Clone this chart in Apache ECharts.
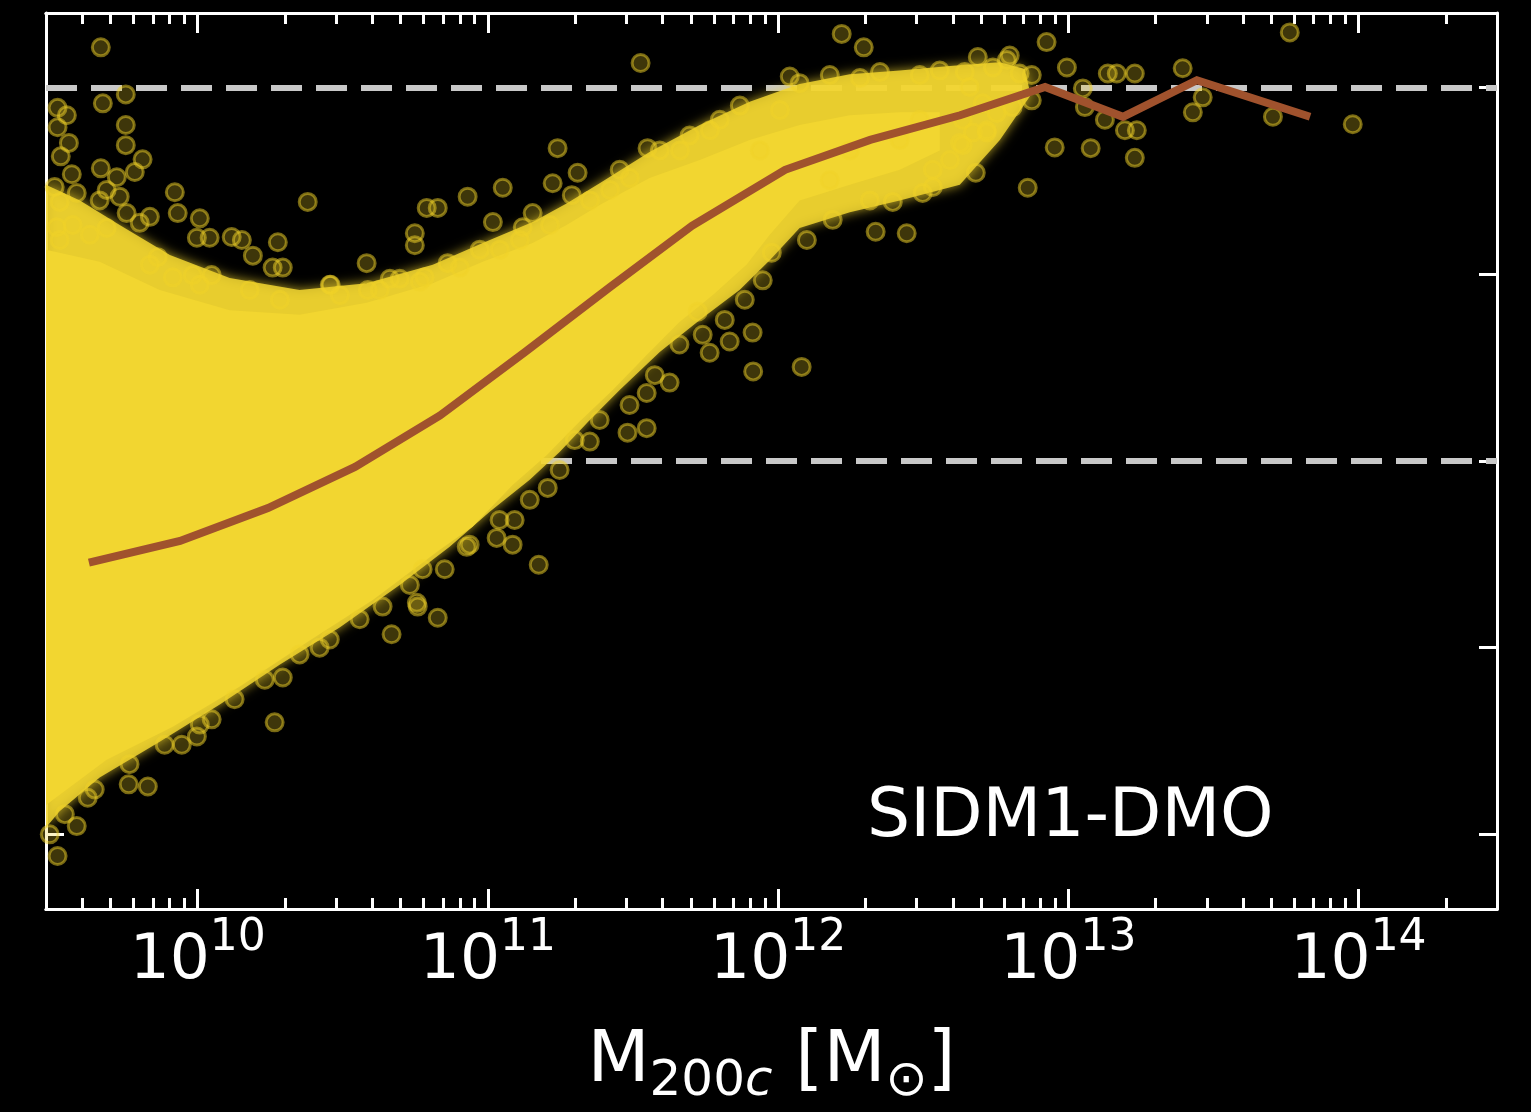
<!DOCTYPE html>
<html>
<head>
<meta charset="utf-8">
<script src="https://cdn.jsdelivr.net/npm/echarts@6/dist/echarts.min.js"></script>
<style>
html,body{margin:0;padding:0;background:#000;}
#chart{width:1531px;height:1112px;}
</style>
</head>
<body>
<div id="chart"></div>
<script>
// x values are log10(M200c / Msun); y is the plotted ratio
const xTickLabels = [10, 11, 12, 13, 14];
const yTicks = [0, 0.25, 0.5, 0.75, 1.0];
const refLines = [1.0, 0.5];

// median curve
const medianX = [9.625, 9.939, 10.242, 10.542, 10.835, 11.128, 11.421, 11.703, 12.024, 12.317, 12.627, 12.920, 13.188, 13.443, 13.833];
const medianY = [0.364, 0.393, 0.437, 0.492, 0.561, 0.646, 0.733, 0.815, 0.890, 0.930, 0.963, 1.001, 0.961, 1.010, 0.961];

// dense (opaque) core of the point cloud: outline, upper edge then lower edge
const coreOutline = [
  [9.477,0.783],[9.662,0.767],[9.869,0.729],[10.110,0.702],[10.351,0.696],[10.582,0.712],[10.810,0.738],
  [10.982,0.767],[11.154,0.792],[11.271,0.816],[11.385,0.843],[11.557,0.879],[11.730,0.903],[11.902,0.930],
  [12.074,0.950],[12.247,0.963],[12.419,0.967],[12.557,0.967],
  [12.557,0.916],[12.419,0.890],[12.247,0.870],[12.074,0.849],[11.971,0.803],[11.891,0.763],[11.774,0.722],
  [11.660,0.686],[11.547,0.642],[11.430,0.595],[11.316,0.553],[11.203,0.508],[11.085,0.468],[10.947,0.412],
  [10.834,0.381],[10.603,0.314],[10.375,0.257],[10.145,0.198],[9.914,0.144],[9.686,0.100],[9.490,0.043],[9.477,0.039]
];
// looser fringe of overlapping points around the core
const haloOutline = [
  [9.477,0.870],[9.594,0.849],[9.731,0.816],[9.904,0.776],[10.110,0.745],[10.351,0.729],[10.582,0.738],
  [10.810,0.763],[10.982,0.792],[11.154,0.820],[11.271,0.845],[11.385,0.872],[11.557,0.914],[11.730,0.950],
  [11.902,0.981],[12.074,1.005],[12.247,1.018],[12.419,1.023],[12.592,1.029],[12.764,1.034],[12.850,1.025],
  [12.870,0.990],[12.764,0.930],[12.626,0.870],[12.419,0.849],[12.247,0.833],[12.074,0.812],[11.971,0.769],
  [11.867,0.729],[11.730,0.689],[11.592,0.646],[11.454,0.595],[11.351,0.555],[11.247,0.512],[11.144,0.475],
  [11.006,0.432],[10.868,0.385],[10.696,0.334],[10.489,0.277],[10.282,0.227],[10.076,0.174],[9.869,0.124],
  [9.662,0.076],[9.524,0.031],[9.477,0.009]
];

// individually visible haloes
const pointsX = [
  9.666,9.673,9.752,9.752,9.752,9.517,9.549,9.517,9.556,9.528,9.666,9.566,9.721,9.810,9.783,9.921,10.379,9.931,10.007,9.997,
  10.041,10.117,10.152,10.276,10.190,10.258,10.293,10.458,9.835,9.862,9.507,9.583,9.524,9.662,9.731,9.686,9.514,9.569,9.686,9.755,
  9.800,9.914,9.983,10.048,
  11.240,11.309,11.454,11.223,11.051,10.930,10.789,10.827,11.289,11.017,11.154,11.120,10.748,10.748,10.582,10.455,10.662,10.696,10.586,10.782,
  10.861,10.972,
  11.526,12.219,12.295,12.040,12.688,12.681,12.336,12.443,11.550,12.188,12.099,11.978,11.947,12.533,12.498,12.395,12.533,12.719,12.626,11.912,
  11.833,11.740,12.081,11.914,11.764,11.723,11.481,11.351,11.547,11.626,11.547,11.206,11.092,11.030,11.085,11.175,10.755,
  10.265,10.668,10.758,10.827,10.637,10.420,10.293,9.945,9.997,10.048,9.828,9.762,9.621,9.583,9.517,10.775,10.927,
  12.925,13.763,12.798,12.740,12.995,13.136,13.167,13.229,13.394,13.463,13.429,13.705,13.980,12.953,13.077,13.229,12.860,13.195,13.236,13.126,
  13.057,12.636,12.671,12.719,12.636,12.808,12.874,13.050,12.874,12.832,12.643,12.660,12.705,12.753,
  11.868,12.074,12.178,12.282,12.351,12.488,12.557,12.788,11.799,11.695,11.592,11.937,12.247,12.419,12.178,12.316,12.592,12.488,12.006,
  11.885,11.816,11.660,11.575,11.488,11.385,11.299,11.247,11.144,11.040,10.937,10.851,10.731,10.558,10.455,10.351,10.231,10.127,10.007,9.886,
  9.765,9.645,9.542,9.490,
  9.524,9.628,9.835,10.007,10.179,10.283,10.490,10.627,10.765,10.903,11.041,11.110,11.214,11.352,11.421,11.489,11.662,11.765
];
const pointsY = [
  1.054,0.979,0.991,0.950,0.923,0.973,0.963,0.947,0.926,0.908,0.892,0.884,0.880,0.904,0.887,0.860,0.847,0.832,0.825,0.799,
  0.799,0.800,0.796,0.793,0.775,0.759,0.759,0.736,0.827,0.773,0.867,0.859,0.847,0.849,0.854,0.863,0.813,0.816,0.812,0.832,
  0.819,0.746,0.749,0.749,
  0.919,0.886,0.890,0.872,0.866,0.854,0.839,0.839,0.856,0.820,0.832,0.813,0.805,0.789,0.765,0.736,0.744,0.744,0.729,0.746,
  0.765,0.783,
  1.033,1.072,1.054,1.015,1.041,0.886,0.807,0.805,0.919,0.823,0.796,0.779,0.742,0.867,0.859,0.847,0.890,0.943,0.926,0.672,
  0.660,0.669,0.626,0.620,0.645,0.700,0.538,0.526,0.544,0.605,0.591,0.464,0.421,0.397,0.388,0.361,0.310,
  0.150,0.268,0.305,0.290,0.305,0.250,0.210,0.120,0.131,0.154,0.064,0.067,0.049,0.011,-0.029,0.355,0.385,
  1.061,1.074,1.043,1.027,1.027,1.019,1.019,1.019,1.026,0.987,0.967,0.961,0.951,0.920,0.919,0.906,0.866,0.943,0.943,0.957,
  0.974,0.957,0.940,0.940,0.923,0.974,0.983,0.999,1.017,1.019,1.021,1.001,0.979,0.966,
  0.976,1.006,1.017,1.013,1.021,1.017,1.023,1.037,0.957,0.936,0.916,0.916,0.916,0.930,0.876,0.849,0.903,0.957,0.970,
  0.716,0.689,0.656,0.615,0.575,0.555,0.528,0.488,0.448,0.421,0.388,0.355,0.334,0.288,0.261,0.241,0.207,0.181,0.147,0.120,
  0.094,0.060,0.027,0.000,
  0.796,0.803,0.763,0.736,0.729,0.716,0.722,0.729,0.740,0.759,0.783,0.796,0.816,0.849,0.863,0.879,0.916,0.943
];

const X_MIN = Math.log10(3e9), X_MAX = Math.log10(3e14);
const FONT = 'DejaVu Sans';
const YELLOW = '#f2d630';

const majorX = xTickLabels.slice();
const minorX = [];
for (let e = 9; e <= 14; e++) for (let k = 2; k <= 9; k++) {
  const v = e + Math.log10(k);
  if (v > X_MIN - 1e-6 && v < X_MAX - 1e-6) minorX.push(v);
}

const chart = echarts.init(document.getElementById('chart'), null, {renderer: 'canvas'});

function polySeries(outline, style, z) {
  return {
    type: 'custom', z: z, silent: true, clip: true,
    xAxisIndex: 0, yAxisIndex: 0,
    data: outline,
    encode: {x: 0, y: 1},
    renderItem: function (params, api) {
      if (params.dataIndex !== 0) return null;
      const pts = outline.map(p => api.coord(p));
      return {type: 'polygon', shape: {points: pts}, style: style};
    }
  };
}

const axisLineStyle = {color: '#ffffff', width: 3};
function xAx(pos, ticks, len, withLabels) {
  return {
    type: 'value', position: pos, min: X_MIN, max: X_MAX, gridIndex: 0,
    axisLine: {show: true, onZero: false, lineStyle: axisLineStyle},
    axisTick: {show: true, inside: true, length: len, customValues: ticks, lineStyle: {color: '#fff', width: 3}},
    axisLabel: withLabels ? {
      show: true, customValues: xTickLabels, margin: 8,
      formatter: v => '{b|10}{s|' + Math.round(v) + '}',
      rich: {
        b: {fontFamily: FONT, fontSize: 63, color: '#fff', lineHeight: 76, verticalAlign: 'bottom'},
        s: {fontFamily: FONT, fontSize: 44, color: '#fff', lineHeight: 42, verticalAlign: 'top'}
      }
    } : {show: false},
    splitLine: {show: false}
  };
}

const xAxes = [
  xAx('bottom', majorX, 20, true),
  xAx('bottom', minorX, 11, false),
  xAx('top', majorX, 20, false),
  xAx('top', minorX, 11, false)
];
xAxes[0].name = '{m|M}{sub|200}{subi|c}{m| [M}{sub|⊙}{m|]}';
xAxes[0].nameLocation = 'middle';
xAxes[0].nameGap = 108;
xAxes[0].nameTextStyle = {
  color: '#fff', fontFamily: FONT,
  rich: {
    m: {fontFamily: FONT, fontSize: 72, color: '#fff', lineHeight: 90, verticalAlign: 'middle'},
    sub: {fontFamily: FONT, fontSize: 50, color: '#fff', lineHeight: 48, verticalAlign: 'bottom'},
    subi: {fontFamily: FONT, fontSize: 50, color: '#fff', lineHeight: 48, verticalAlign: 'bottom', fontStyle: 'italic'}
  }
};

function yAx(pos) {
  return {
    type: 'value', position: pos, min: -0.1, max: 1.1, gridIndex: 0,
    axisLine: {show: true, onZero: false, lineStyle: axisLineStyle},
    axisTick: {show: true, inside: true, length: 18, customValues: yTicks, lineStyle: {color: '#fff', width: 3}},
    axisLabel: {show: false},
    splitLine: {show: false}
  };
}

const option = {
  backgroundColor: '#000000',
  animation: false,
  grid: {left: 46, right: 34, top: 13, bottom: 202, containLabel: false},
  xAxis: xAxes,
  yAxis: [yAx('left'), yAx('right')],
  graphic: [{
    type: 'text', left: 867, top: 784, z: 100,
    style: {text: 'SIDM1-DMO', fill: '#ffffff', font: '68px "DejaVu Sans"'}
  }],
  series: [
    {
      type: 'line', data: [], z: 1, xAxisIndex: 0, yAxisIndex: 0,
      markLine: {
        silent: true, symbol: 'none', label: {show: false}, z: 1,
        lineStyle: {color: '#c8c8c8', width: 6, type: [31, 14]},
        data: refLines.map(v => ({yAxis: v}))
      }
    },
    polySeries(haloOutline, {fill: 'rgba(242,214,48,0.85)', shadowBlur: 12, shadowColor: 'rgba(242,214,48,0.85)'}, 2),
    polySeries(coreOutline, {fill: YELLOW}, 3),
    {
      type: 'scatter', z: 4, xAxisIndex: 0, yAxisIndex: 0,
      data: pointsX.map((x, i) => [x, pointsY[i]]),
      symbol: 'circle', symbolSize: 17,
      itemStyle: {color: 'rgba(240,210,40,0.32)', borderColor: 'rgba(240,210,40,0.62)', borderWidth: 3},
      silent: true
    },
    {
      type: 'line', z: 5, xAxisIndex: 0, yAxisIndex: 0,
      data: medianX.map((x, i) => [x, medianY[i]]),
      symbol: 'none', lineStyle: {color: '#a0522d', width: 8, cap: 'butt', join: 'miter'},
      silent: true
    }
  ]
};
chart.setOption(option);
</script>
</body>
</html>
